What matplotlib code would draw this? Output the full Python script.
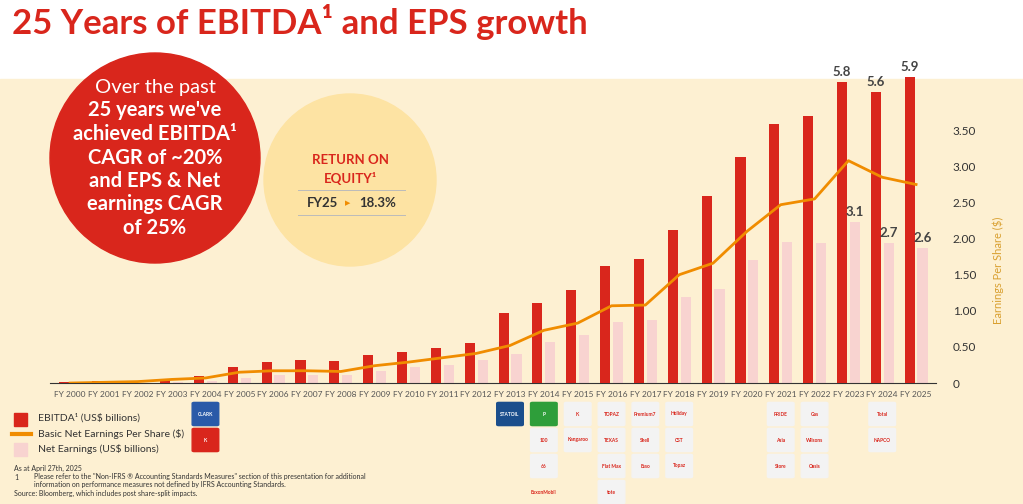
import matplotlib.pyplot as plt
from matplotlib.patches import Circle, Rectangle, FancyBboxPatch

plt.rcParams['font.family'] = ['Lato', 'DejaVu Sans']

years = [f"FY {y}" for y in range(2000, 2026)]
ebitda = [0.02, 0.03, 0.03, 0.06, 0.13, 0.31, 0.40, 0.44, 0.42, 0.54, 0.60, 0.68, 0.78,
          1.34, 1.54, 1.80, 2.26, 2.39, 2.94, 3.60, 4.35, 4.98, 5.15, 5.8, 5.6, 5.9]
net = [0.01, 0.01, 0.01, 0.02, 0.04, 0.10, 0.15, 0.15, 0.15, 0.23, 0.30, 0.34, 0.44,
       0.56, 0.80, 0.92, 1.18, 1.21, 1.66, 1.82, 2.37, 2.72, 2.70, 3.1, 2.7, 2.6]
eps = [0.0, 0.01, 0.02, 0.05, 0.07, 0.15, 0.17, 0.17, 0.16, 0.24, 0.29, 0.35, 0.41,
       0.52, 0.73, 0.83, 1.07, 1.08, 1.50, 1.66, 2.10, 2.47, 2.55, 3.08, 2.85, 2.75]
labelled = {23: ("5.8", "3.1"), 24: ("5.6", "2.7"), 25: ("5.9", "2.6")}
eps_ticks = [0, 0.5, 1.0, 1.5, 2.0, 2.5, 3.0, 3.5]
eps_tick_labels = ["0", "0.50", "1.00", "1.50", "2.00", "2.50", "3.00", "3.50"]

RED = "#d9261c"
PINK = "#f8d3d0"
ORANGE = "#f08c00"
CREAM = "#fdf0d2"


def px(xp, yp):
    return xp / 1023, 1 - yp / 504


fig = plt.figure(figsize=(10.23, 5.04), dpi=100)
fig.patches.append(Rectangle((0, 0), 1, 0.843, transform=fig.transFigure, color=CREAM, zorder=-10))
fig.text(*px(12, 22), "25 Years of EBITDA¹ and EPS growth", fontsize=25, fontweight='bold',
         color=RED, va='center')

ax = fig.add_axes([0.049, 0.24, 0.866, 0.616])
ax.set_facecolor('none')
x = list(range(len(years)))
ax.bar([i - 0.19 for i in x], ebitda, width=0.3, color=RED, zorder=3)
ax.bar([i + 0.19 for i in x], net, width=0.3, color=PINK, zorder=2)
for i, (a, b) in labelled.items():
    ax.text(i - 0.19, ebitda[i] + 0.08, a, ha='center', va='bottom', fontsize=9.5, fontweight='bold', color='#444444')
    ax.text(i + 0.19, net[i] + 0.08, b, ha='center', va='bottom', fontsize=9.5, fontweight='bold', color='#444444')
ax.set_xlim(-0.59, 25.59)
ax.set_ylim(0, 5.98)
ax.set_yticks([])
ax.set_xticks(x)
ax.set_xticklabels(years, fontsize=6, color='#555555')
ax.tick_params(axis='x', length=0, pad=6)
for s in ['top', 'right', 'left']:
    ax.spines[s].set_visible(False)
ax.spines['bottom'].set_color('#333333')

ax2 = ax.twinx()
ax2.plot(x, eps, color=ORANGE, lw=2, zorder=4)
ax2.set_ylim(0, 4.3)
ax2.set_yticks(eps_ticks)
ax2.set_yticklabels(eps_tick_labels, fontsize=8.5, color='#333333')
ax2.tick_params(axis='y', length=0, pad=12)
for s in ['top', 'right', 'left', 'bottom']:
    ax2.spines[s].set_visible(False)
fig.text(*px(998, 270), "Earnings Per Share ($)", rotation=90, fontsize=8, color='#d9a030',
         ha='center', va='center')

# circles
fig.patches.append(Circle((1.55, 5.04 - 1.58), 1.05, transform=fig.dpi_scale_trans, color=RED, zorder=5))
fig.patches.append(Circle((3.50, 5.04 - 1.80), 0.86, transform=fig.dpi_scale_trans, color='#fde3a3', zorder=4))

lines = [("Over the past", 'normal'), ("25 years we've", 'bold'), ("achieved EBITDA¹", 'bold'),
         ("CAGR of ~20%", 'bold'), ("and EPS & Net", 'bold'), ("earnings CAGR", 'bold'), ("of 25%", 'bold')]
for k, (t, w) in enumerate(lines):
    fig.text(*px(155, 87 + k * 23.5), t, ha='center', va='center', fontsize=14.5,
             color='white', fontweight=w, zorder=6)

fig.text(*px(350, 160), "RETURN ON", ha='center', va='center', fontsize=9.5,
         fontweight='bold', color=RED, zorder=6)
fig.text(*px(350, 178), "EQUITY¹", ha='center', va='center', fontsize=9.5,
         fontweight='bold', color=RED, zorder=6)
fig.text(*px(322, 203), "FY25", ha='center', va='center', fontsize=9.5,
         fontweight='bold', color='#333333', zorder=6)
fig.text(*px(348, 203), "▶", ha='center', va='center', fontsize=5, color=ORANGE, zorder=6)
fig.text(*px(378, 203), "18.3%", ha='center', va='center', fontsize=9.5,
         fontweight='bold', color='#333333', zorder=6)
for yl in (190, 215):
    fig.lines.append(plt.Line2D([298 / 1023, 405 / 1023], [px(0, yl)[1]] * 2, transform=fig.transFigure,
                                color='#bbbbbb', lw=0.7, zorder=6))

# legend
fig.patches.append(Rectangle(px(14, 426), 13 / 1023, 13 / 504, transform=fig.transFigure, color=RED))
fig.lines.append(plt.Line2D([px(12, 0)[0], px(31, 0)[0]], [px(0, 434)[1]] * 2, transform=fig.transFigure,
                            color=ORANGE, lw=3))
fig.patches.append(Rectangle(px(14, 456), 13 / 1023, 13 / 504, transform=fig.transFigure, color=PINK))
fig.text(*px(38, 418), "EBITDA¹ (US$ billions)", fontsize=7.5, va='center', color='#333333')
fig.text(*px(38, 434), "Basic Net Earnings Per Share ($)", fontsize=7.5, va='center', color='#333333')
fig.text(*px(38, 449), "Net Earnings (US$ billions)", fontsize=7.5, va='center', color='#333333')
fig.text(*px(14, 468), "As at April 27th, 2025", fontsize=5, va='center', color='#333333')
fig.text(*px(14, 477), "1", fontsize=5, va='center', color='#333333')
fig.text(*px(34, 477), 'Please refer to the "Non-IFRS ® Accounting Standards Measures" section of this presentation for additional',
         fontsize=5, va='center', color='#333333')
fig.text(*px(34, 485), "information on performance measures not defined by IFRS Accounting Standards.",
         fontsize=5, va='center', color='#333333')
fig.text(*px(14, 493), "Source: Bloomberg, which includes post share-split impacts.", fontsize=5, va='center', color='#333333')

# acquisition logo placeholders
logos = {4: [("#2a5aa8", "CLARK"), (RED, "K")], 13: [("#1b4e8c", "STATOIL")],
         14: [("#2e9e3a", "P"), ("#f3f3f3", "100"), ("#f3f3f3", "66"), (CREAM, "ExxonMobil")],
         15: [("#f3f3f3", "K"), ("#f3f3f3", "Kangaroo")],
         16: [("#f3f3f3", "TOPAZ"), ("#f3f3f3", "TEXAS"), ("#f3f3f3", "Flat Max"), ("#f3f3f3", "tote")],
         17: [("#f3f3f3", "Premium7"), ("#f3f3f3", "Shell"), ("#f3f3f3", "Esso")],
         18: [("#f3f3f3", "Holiday"), ("#f3f3f3", "CST"), ("#f3f3f3", "Topaz")],
         21: [("#f3f3f3", "PRIDE"), ("#f3f3f3", "Asia"), ("#f3f3f3", "Store")],
         22: [("#f3f3f3", "Gas"), ("#f3f3f3", "Wilsons"), ("#f3f3f3", "Oasis")],
         24: [("#f3f3f3", "Total"), ("#f3f3f3", "NAPCO")]}
fig.canvas.draw()
for i, items in logos.items():
    xc = ax.transData.transform((i, 0))[0] / 1023
    for k, (c, t) in enumerate(items):
        yc_ = px(0, 414 + k * 26)[1]
        fig.patches.append(FancyBboxPatch((xc - 0.011, yc_ - 0.021), 0.022, 0.042,
                                          boxstyle="round,pad=0.002", transform=fig.transFigure,
                                          color=c, zorder=5))
        fig.text(xc, yc_, t, fontsize=3.5, ha='center', va='center', zorder=6,
                 color='white' if c in ("#2a5aa8", RED, "#1b4e8c", "#2e9e3a") else RED, fontweight='bold')

fig.savefig("out.png", dpi=100)
